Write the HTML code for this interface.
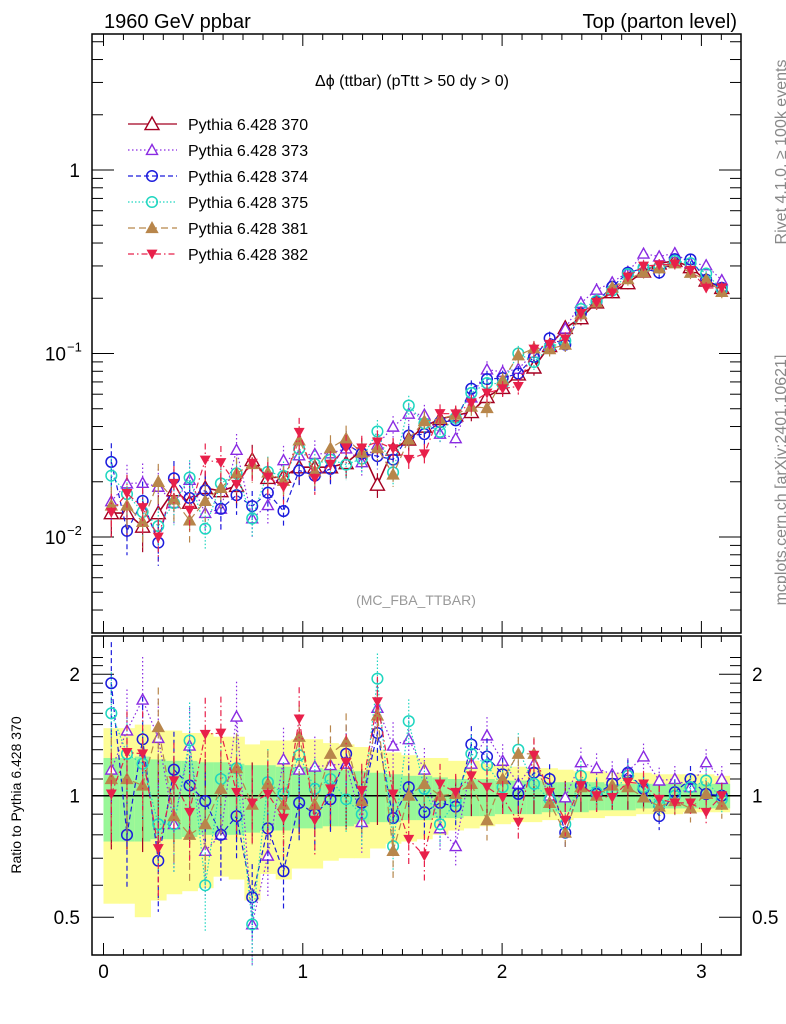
<!DOCTYPE html>
<html><head><meta charset="utf-8"><style>
html,body{margin:0;padding:0;background:#fff;}
svg{display:block;font-family:"Liberation Sans",sans-serif;}
</style></head><body>
<svg id="chart" width="786" height="1024" viewBox="0 0 786 1024" xmlns="http://www.w3.org/2000/svg">
<text x="104" y="28" font-size="20">1960 GeV ppbar</text>
<text x="737" y="28" font-size="20" text-anchor="end">Top (parton level)</text>
<text x="412" y="86" font-size="16" text-anchor="middle">Δϕ (ttbar) (pTtt &gt; 50 dy &gt; 0)</text>
<text x="416" y="605" font-size="14" fill="#999" text-anchor="middle">(MC_FBA_TTBAR)</text>
<text transform="translate(786,152) rotate(-90)" font-size="16" fill="#888" text-anchor="middle">Rivet 4.1.0, ≥ 100k events</text>
<text transform="translate(786,480) rotate(-90)" font-size="16" fill="#888" text-anchor="middle">mcplots.cern.ch [arXiv:2401.10621]</text>
<text transform="translate(21,795) rotate(-90)" font-size="14" text-anchor="middle">Ratio to Pythia 6.428 370</text>
<g id="bands"></g>
<g id="ticks"></g>
<g id="marks"></g>
<g id="legend"></g>
<rect x="92" y="34" width="649" height="599" fill="none" stroke="#000" stroke-width="1.5"/>
<rect x="92" y="636" width="649" height="319" fill="none" stroke="#000" stroke-width="1.5"/>
</svg>
<script>
const NS="http://www.w3.org/2000/svg";
const binCount=40;
const ref370=[0.0135,0.0135,0.0114,0.0135,0.018,0.0154,0.0185,0.0178,0.019,0.0263,0.021,0.0213,0.024,0.024,0.024,0.0253,0.0297,0.0193,0.03,0.034,0.04,0.044,0.046,0.048,0.058,0.065,0.077,0.084,0.11,0.138,0.156,0.19,0.216,0.242,0.28,0.31,0.32,0.296,0.25,0.228];
const ratio373=[1.16,1.45,1.73,1.39,0.85,1.33,0.73,0.8,1.57,0.48,0.71,1.23,1.16,1.18,1.19,1.2,0.86,1.65,1.33,1.38,1.16,0.83,0.75,1.2,1.41,1.22,1.07,1.2,1.0,0.99,1.21,1.17,1.13,1.15,1.25,1.09,1.1,1.05,1.21,1.1];
const ratio374=[1.9,0.8,1.38,0.69,1.16,1.06,0.97,0.8,0.89,0.56,0.83,0.65,0.96,0.9,0.98,1.27,0.96,1.43,0.88,1.05,0.91,0.96,0.94,1.34,1.25,1.13,1.01,1.14,1.1,0.81,1.06,1.01,1.07,1.14,1.04,0.89,1.02,1.1,1.01,1.0];
const ratio375=[1.6,1.27,1.2,0.85,0.85,1.37,0.6,1.1,1.17,0.48,1.08,1.01,1.26,1.04,1.1,0.98,0.9,1.95,0.75,1.53,1.04,0.85,0.97,1.27,1.19,1.05,1.3,1.07,0.98,0.85,1.12,1.02,1.02,1.12,1.05,0.95,1.0,1.05,1.09,0.98];
const ratio381=[1.1,1.1,1.06,1.48,0.89,0.8,0.85,1.04,1.17,0.95,1.07,0.95,1.4,0.95,1.27,1.36,0.97,1.58,0.73,1.0,1.07,1.0,1.01,1.07,0.87,1.1,1.27,1.27,0.96,0.81,1.05,1.0,1.06,1.05,0.99,0.94,0.97,0.93,1.01,0.95];
const ratio382=[1.01,1.28,1.27,0.74,1.09,0.91,1.42,1.43,1.02,0.96,1.01,0.88,1.55,0.87,1.04,1.21,1.03,1.71,1.01,0.78,0.71,1.07,1.02,1.12,1.05,0.99,0.86,1.26,1.02,0.87,1.06,1.0,0.99,1.08,1.07,0.98,0.96,0.96,0.91,1.0];
const yellowHi=[1.47,1.47,1.5,1.45,1.45,1.43,1.43,1.4,1.4,1.34,1.37,1.37,1.38,1.38,1.35,1.34,1.32,1.3,1.28,1.26,1.24,1.24,1.22,1.22,1.2,1.19,1.18,1.17,1.17,1.16,1.15,1.15,1.14,1.14,1.14,1.13,1.13,1.13,1.13,1.12];
const yellowLo=[0.54,0.54,0.5,0.55,0.57,0.58,0.59,0.63,0.62,0.55,0.64,0.62,0.66,0.66,0.69,0.7,0.7,0.74,0.76,0.77,0.78,0.8,0.82,0.83,0.84,0.85,0.86,0.86,0.87,0.87,0.88,0.88,0.89,0.89,0.9,0.9,0.9,0.91,0.91,0.91];
const greenHi=[1.24,1.24,1.25,1.23,1.22,1.22,1.21,1.21,1.2,1.19,1.19,1.18,1.18,1.17,1.16,1.16,1.15,1.14,1.13,1.12,1.12,1.11,1.1,1.1,1.1,1.09,1.09,1.09,1.08,1.08,1.08,1.08,1.07,1.07,1.07,1.07,1.07,1.07,1.07,1.07];
const greenLo=[0.77,0.77,0.77,0.78,0.78,0.79,0.8,0.8,0.8,0.81,0.82,0.82,0.83,0.83,0.84,0.84,0.85,0.86,0.86,0.87,0.87,0.88,0.88,0.89,0.89,0.9,0.9,0.9,0.91,0.91,0.91,0.92,0.92,0.92,0.93,0.93,0.93,0.93,0.93,0.93];
const xTickLabels=["0","1","2","3"];

const X0=103.5, XS=199.3;
const xScale=v=>X0+XS*v;
const yMain=v=>170-183.5*Math.log10(v);
const yRatio=r=>795.7-121.5*Math.log2(r);
const binW=Math.PI/binCount;
const binC=i=>(i+0.5)*binW;

function el(tag,attrs,parent){const e=document.createElementNS(NS,tag);for(const k in attrs)e.setAttribute(k,attrs[k]);parent.appendChild(e);return e;}
const bands=document.getElementById('bands'),ticks=document.getElementById('ticks'),marks=document.getElementById('marks'),legend=document.getElementById('legend');

for(let i=0;i<binCount;i++){
  const x1=xScale(i*binW),x2=xScale((i+1)*binW);
  const y=el('rect',{x:x1,y:yRatio(yellowHi[i]),width:x2-x1+0.5,height:yRatio(yellowLo[i])-yRatio(yellowHi[i]),fill:'#fdfd96'},bands);
  
  
  const g=el('rect',{x:x1,y:yRatio(greenHi[i]),width:x2-x1+0.5,height:yRatio(greenLo[i])-yRatio(greenHi[i]),fill:'#98f798'},bands);
  
  
}
const oneLine=el('line',{x1:92,x2:741,y1:yRatio(1),y2:yRatio(1),stroke:'#000','stroke-width':1.5},bands);



for(let k=0;k<=31;k++){
  const v=k/10,x=xScale(v),maj=k%10===0,len=maj?12:6;
  [[34,1],[633,-1],[636,1],[955,-1]].forEach(([y0,d])=>{el('line',{x1:x,x2:x,y1:y0,y2:y0+d*len,stroke:'#000','stroke-width':1},ticks);});
}
xTickLabels.forEach((t,k)=>{const e=el('text',{x:xScale(k),y:978,'font-size':19,'text-anchor':'middle'},ticks);e.textContent=t;
 
 });
for(let d=-3;d<=0;d++){for(let m=1;m<=9;m++){const v=m*Math.pow(10,d),y=yMain(v);if(y<34||y>633)continue;const len=m===1?22:11;
 el('line',{x1:92,x2:92+len,y1:y,y2:y,stroke:'#000'},ticks);el('line',{x1:741,x2:741-len,y1:y,y2:y,stroke:'#000'},ticks);}}
[[1,"1"],[0.1,"10"],[0.01,"10"]].forEach(([v,t],k)=>{const e=el('text',{x:k===0?80:66,y:yMain(v)+7,'font-size':19,'text-anchor':'end'},ticks);e.textContent=t;
 
 
 if(k>0){const s=el('text',{x:67,y:yMain(v)-2,'font-size':13},ticks);s.textContent=k===1?"−1":"−2";
 
 }});
const rt=[0.5,0.6,0.7,0.8,0.9,1,1.1,1.2,1.3,1.4,1.5,1.6,1.7,1.8,1.9,2,2.1,2.2];
rt.forEach(v=>{const y=yRatio(v);if(y<636||y>955)return;const len=(v===0.5||v===1||v===2)?22:11;
 el('line',{x1:92,x2:92+len,y1:y,y2:y,stroke:'#000'},ticks);el('line',{x1:741,x2:741-len,y1:y,y2:y,stroke:'#000'},ticks);});
[[2,"2"],[1,"1"],[0.5,"0.5"]].forEach(([v,t])=>{
 const a=el('text',{x:80,y:yRatio(v)+7,'font-size':19,'text-anchor':'end'},ticks);a.textContent=t;
 
 
 const b=el('text',{x:752,y:yRatio(v)+7,'font-size':19},ticks);b.textContent=t;
 
 });

const series=[
 {id:'370',r:ref370.map(()=>1),c:'#a50021',dash:'',m:'tri-open',big:true},
 {id:'373',r:ratio373,c:'#8a2be2',dash:'1.5,2.5',m:'tri-open'},
 {id:'374',r:ratio374,c:'#1c1cdc',dash:'5,3',m:'circ'},
 {id:'375',r:ratio375,c:'#1fd6c0',dash:'1.5,2',m:'circ'},
 {id:'381',r:ratio381,c:'#b8864b',dash:'7,4',m:'tri-fill'},
 {id:'382',r:ratio382,c:'#e8204a',dash:'6,3,1.5,3',m:'tri-down'}
];
function marker(p,x,y,s,g){
 const sz=s.big?7:5.5;
 if(s.m==='circ')return el('circle',{cx:x,cy:y,r:5.3,fill:'none',stroke:s.c,'stroke-width':1.5},g);
 if(s.m==='tri-down')return el('polygon',{points:`${x-sz},${y-sz*0.8} ${x+sz},${y-sz*0.8} ${x},${y+sz}`,fill:s.c},g);
 return el('polygon',{points:`${x},${y-sz} ${x-sz},${y+sz*0.8} ${x+sz},${y+sz*0.8}`,fill:s.m==='tri-fill'?s.c:'#fff',stroke:s.c,'stroke-width':1.4},g);
}
series.forEach(s=>{
 const g=el('g',{},marks);
 
 
 let pm=[],pr=[];
 for(let i=0;i<binCount;i++){
  const x=xScale(binC(i)),v=ref370[i]*s.r[i],err=(greenHi[i]-1)*1.1;
  const ym=yMain(v),yr=yRatio(s.r[i]);
  pm.push(x+','+ym);pr.push(x+','+yr);
  el('line',{x1:x,x2:x,y1:yMain(v*(1+err)),y2:yMain(v*Math.max(0.2,1-err)),stroke:s.c,'stroke-width':1.2,'stroke-dasharray':s.dash},g);
  el('line',{x1:x,x2:x,y1:yRatio(s.r[i]*(1+err)),y2:yRatio(s.r[i]*Math.max(0.2,1-err)),stroke:s.c,'stroke-width':1.2,'stroke-dasharray':s.dash},g);
 }
 el('polyline',{points:pm.join(' '),fill:'none',stroke:s.c,'stroke-width':s.big?1.6:1.2,'stroke-dasharray':s.dash},g);
 if(s.id!=='370')el('polyline',{points:pr.join(' '),fill:'none',stroke:s.c,'stroke-width':1.2,'stroke-dasharray':s.dash},g);
 for(let i=0;i<binCount;i++){
  const x=xScale(binC(i));
  const a=marker(s,x,yMain(ref370[i]*s.r[i]),s,g);
  
  
  if(s.id!=='370'){const b=marker(s,x,yRatio(s.r[i]),s,g);
  
  }
 }
});
series.forEach((s,k)=>{
 const y=124+k*26;
 const g=el('g',{},legend);
 
 
 el('line',{x1:128,x2:177,y1:y,y2:y,stroke:s.c,'stroke-width':1.3,'stroke-dasharray':s.dash},g);
 marker(s,152,y,s,g);
 const t=el('text',{x:188,y:y+6,'font-size':16},g);t.textContent='Pythia 6.428 '+s.id;
});
</script>
</body></html>
